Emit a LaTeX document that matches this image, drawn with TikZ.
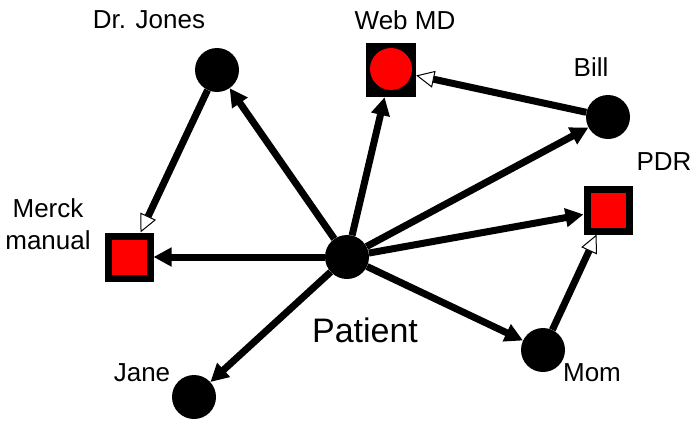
\documentclass[tikz,border=0pt]{standalone}
\usepackage{fontspec}
\setmainfont{Liberation Sans}
\usetikzlibrary{arrows.meta}
\begin{document}
\begin{tikzpicture}[x=1pt,y=-1pt,
  person/.style={circle,fill=black,minimum size=44pt,inner sep=0pt},
  source/.style={rectangle,fill=red,draw=black,line width=7pt,minimum size=42pt,inner sep=0pt},
  lbl/.style={font=\fontsize{26}{28}\selectfont,inner sep=0pt},
  link/.style={line width=7pt,-{Triangle[length=18pt,width=18pt]}},
  hlink/.style={line width=7pt,-{Triangle[open,length=18pt,width=17pt,line width=1pt,fill=white]}}
]
\useasboundingbox (0,0) rectangle (695,420);
\node[person] (P) at (347,257) {};
\node[person] (DJ) at (217,70) {};
\node[rectangle,fill=black,minimum width=50pt,minimum height=54pt,inner sep=0pt] (WM) at (391,70) {};
\node[circle,fill=red,minimum size=42pt,inner sep=0pt] (WMc) at (391,69) {};
\node[person] (B) at (608,117) {};
\node[source] (PDR) at (608,210) {};
\node[source] (MM) at (129,257) {};
\node[person] (J) at (194,397) {};
\node[person] (M) at (543,350) {};

\node[lbl] (tDJ) at (149,20) {Dr. Jones};
\node[lbl] (tWM) at (405,20) {Web MD};
\node[lbl] (tB) at (591,67) {Bill};
\node[lbl] (tPDR) at (664,162) {PDR};
\node[lbl] (tMM1) at (48,208) {Merck};
\node[lbl] (tMM2) at (48,240) {manual};
\node[lbl] (tJ) at (142,373) {Jane};
\node[lbl] (tM) at (592,373) {Mom};
\node[font=\fontsize{34}{36}\selectfont,inner sep=0pt] (tP) at (365,330) {Patient};

\draw[link] (P) -- (DJ);
\draw[link] (P) -- (WM);
\draw[link] (P) -- (B);
\draw[link] (P) -- (PDR);
\draw[link] (P) -- (MM);
\draw[link] (P) -- (J);
\draw[link] (P) -- (M);
\draw[hlink] (DJ) -- (MM);
\draw[hlink] (B) -- (WM);
\draw[hlink] (M) -- (PDR);
\end{tikzpicture}
\end{document}
